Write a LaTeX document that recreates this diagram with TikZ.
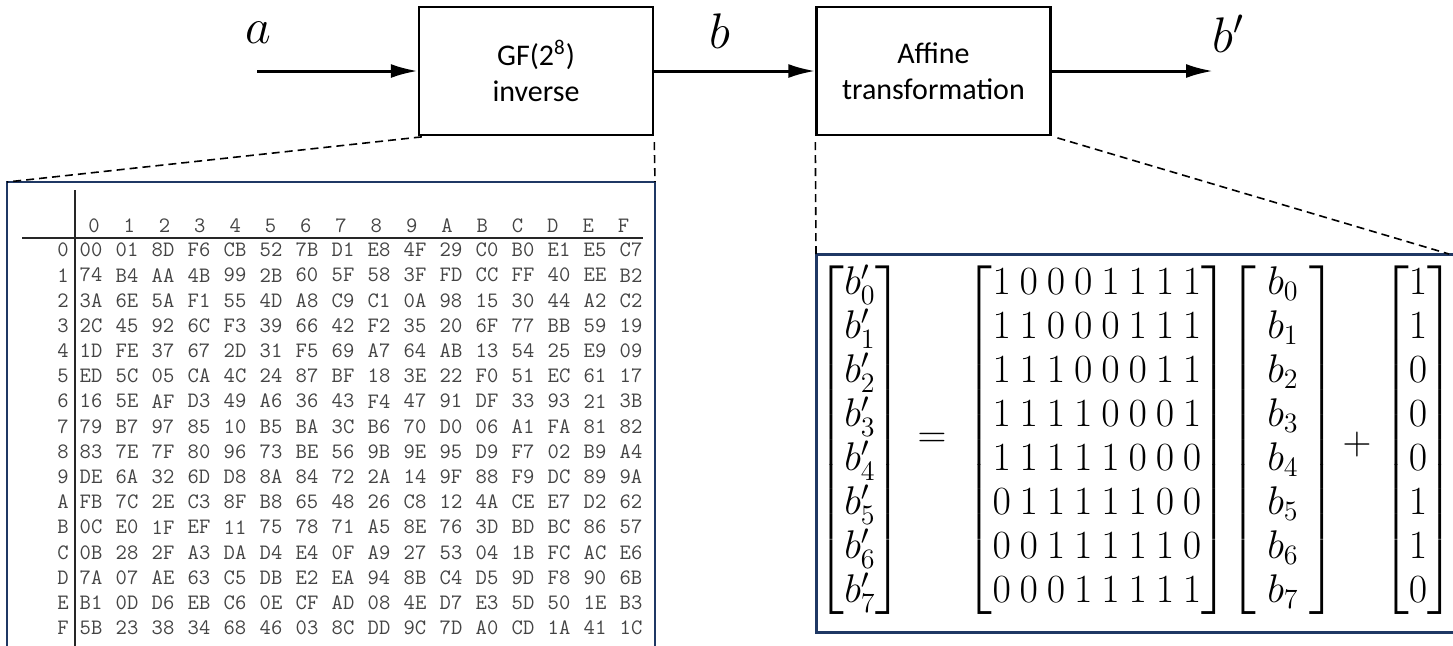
\documentclass[tikz,border=0pt]{standalone}
\usepackage{fix-cm}
\usepackage{amsmath}
\usepackage{fontspec}
\newfontfamily\boxfont{Carlito}
\usepackage{tikz}
\usetikzlibrary{arrows.meta}

\definecolor{rahmen}{HTML}{1F3864}
\definecolor{tabgrau}{HTML}{444444}

\begin{document}
\begin{tikzpicture}[x=0.5pt,y=-0.5pt,
	block/.style={draw, line width=1.2pt, minimum width=117pt, minimum height=64pt,
		font=\boxfont\fontsize{15}{18}\selectfont, align=center},
	pfeil/.style={-{Latex[length=13.5pt,width=7pt]}, line width=1.5pt},
	lupe/.style={line width=0.8pt, dash pattern=on 4pt off 2.5pt, shorten <=3pt},
	lab/.style={font=\fontsize{25}{30}\selectfont, inner sep=0pt},
	zelle/.style={font=\ttfamily\fontsize{11}{12}\selectfont, text=tabgrau, inner sep=0pt},
	zeilenkopf/.style={zelle, anchor=east},
	gl/.style={font=\fontsize{20}{22}\selectfont, inner sep=0pt}]
	\clip (0,0) rectangle (1453,645);
	
	%Bloecke
	\node[block] (inv) at (536,71) {GF(2\textsuperscript{8})\\inverse};
	\node[block] (aff) at (933.5,71) {Affine\\transformation};
	
	%Koordinaten fuer die Pfeile
	\coordinate (A) at (257,71);
	\coordinate (Bs) at (1213,71);
	\node[lab] (la) at (258,33) {$a$};
	\node[lab] (lb) at (720,31) {$b$};
	\node[lab] (lbs) at (1228,34) {$b'$};
	
	\path[pfeil]
	(A) edge (inv)
	(inv) edge (aff)
	(aff) edge (Bs)
	;
	
	%Rahmen
	\coordinate (T1) at (7,182);
	\coordinate (T2) at (655,182);
	\coordinate (M1) at (816,254);
	\coordinate (M2) at (1449,254);
	\draw[rahmen, line width=1pt] (T1) rectangle (655,660);
	\draw[rahmen, line width=1.5pt] (M1) rectangle (1470,632);
	
	\draw[lupe] ([xshift=5pt]inv.south west) -- (T1);
	\draw[lupe] (inv.south east) -- (T2);
	\draw[lupe] (aff.south west) -- (M1);
	\draw[lupe] (aff.south east) -- (M2);
	
	%Tabelle
	\draw[line width=1pt, black!85] (22,238) -- (643,238);
	\draw[line width=1pt, black!85] (75,190) -- (75,660);
	\foreach \h [count=\j from 0] in {0,1,2,3,4,5,6,7,8,9,A,B,C,D,E,F}
		\node[zelle] (k\h) at ({94+35.3*\j},226) {\h};
	\foreach \r/\zeile [count=\i from 0] in {
		0/{00,01,8D,F6,CB,52,7B,D1,E8,4F,29,C0,B0,E1,E5,C7},
		1/{74,B4,AA,4B,99,2B,60,5F,58,3F,FD,CC,FF,40,EE,B2},
		2/{3A,6E,5A,F1,55,4D,A8,C9,C1,0A,98,15,30,44,A2,C2},
		3/{2C,45,92,6C,F3,39,66,42,F2,35,20,6F,77,BB,59,19},
		4/{1D,FE,37,67,2D,31,F5,69,A7,64,AB,13,54,25,E9,09},
		5/{ED,5C,05,CA,4C,24,87,BF,18,3E,22,F0,51,EC,61,17},
		6/{16,5E,AF,D3,49,A6,36,43,F4,47,91,DF,33,93,21,3B},
		7/{79,B7,97,85,10,B5,BA,3C,B6,70,D0,06,A1,FA,81,82},
		8/{83,7E,7F,80,96,73,BE,56,9B,9E,95,D9,F7,02,B9,A4},
		9/{DE,6A,32,6D,D8,8A,84,72,2A,14,9F,88,F9,DC,89,9A},
		A/{FB,7C,2E,C3,8F,B8,65,48,26,C8,12,4A,CE,E7,D2,62},
		B/{0C,E0,1F,EF,11,75,78,71,A5,8E,76,3D,BD,BC,86,57},
		C/{0B,28,2F,A3,DA,D4,E4,0F,A9,27,53,04,1B,FC,AC,E6},
		D/{7A,07,AE,63,C5,DB,E2,EA,94,8B,C4,D5,9D,F8,90,6B},
		E/{B1,0D,D6,EB,C6,0E,CF,AD,08,4E,D7,E3,5D,50,1E,B3},
		F/{5B,23,38,34,68,46,03,8C,DD,9C,7D,A0,CD,1A,41,1C}}{
		\node[zeilenkopf] (z\r) at (69,{250+25.2*\i}) {\r};
		\foreach \w [count=\j from 0] in \zeile
			\node[zelle] (c\r-\j) at ({91+36*\j},{250+25.2*\i}) {\w};
	}
	
	%Affine Abbildung
	\node[gl] (bs) at (860,440) {$\begin{bmatrix} b'_0\\ b'_1\\ b'_2\\ b'_3\\ b'_4\\ b'_5\\ b'_6\\ b'_7 \end{bmatrix}$};
	\node[gl] (gleich) at (932,440) {$=$};
	\node[gl] (mat) at (1097,440) {$\begin{bmatrix}
		1\:0\:0\:0\:1\:1\:1\:1\\
		1\:1\:0\:0\:0\:1\:1\:1\\
		1\:1\:1\:0\:0\:0\:1\:1\\
		1\:1\:1\:1\:0\:0\:0\:1\\
		1\:1\:1\:1\:1\:0\:0\:0\\
		0\:1\:1\:1\:1\:1\:0\:0\\
		0\:0\:1\:1\:1\:1\:1\:0\\
		0\:0\:0\:1\:1\:1\:1\:1 \end{bmatrix}$};
	\node[gl] (bv) at (1283,440) {$\begin{bmatrix} \mkern5mu b_0\mkern5mu\\ b_1\\ b_2\\ b_3\\ b_4\\ b_5\\ b_6\\ b_7 \end{bmatrix}$};
	\node[gl] (plus) at (1357,444) {$+$};
	\node[gl] (cv) at (1418,440) {$\begin{bmatrix} 1\\ 1\\ 0\\ 0\\ 0\\ 1\\ 1\\ 0 \end{bmatrix}$};
\end{tikzpicture}
\end{document}
